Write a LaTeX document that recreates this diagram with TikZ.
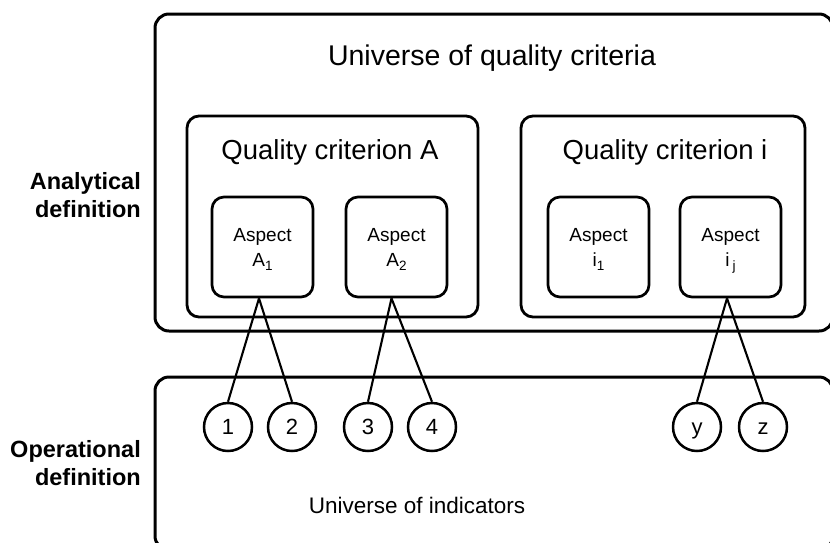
\documentclass[tikz,border=0pt]{standalone}
\usepackage{fontspec}
\setmainfont{Liberation Sans}
\newcommand\idx[1]{\raisebox{-4pt}[\height][0pt]{\fontsize{13.5}{13.5}\selectfont #1}}
\tikzset{
  frame/.style={draw, line width=3pt, rounded corners=14pt},
  critbox/.style={draw, line width=2.8pt, rounded corners=12pt},
  aspectbox/.style={draw, fill=white, line width=2.7pt, rounded corners=12pt,
    minimum width=101pt, minimum height=100pt, inner sep=0pt, align=center,
    font=\fontsize{19}{25}\selectfont},
  indicator/.style={draw, fill=white, circle, line width=2.5pt,
    minimum size=48pt, inner sep=0pt, text height=15.75pt, text depth=0pt,
    font=\fontsize{22}{22}\selectfont},
  link/.style={line width=2.1pt},
  bigtitle/.style={inner sep=0pt, font=\fontsize{28.5}{28.5}\selectfont},
  crittitle/.style={inner sep=0pt, font=\fontsize{27.5}{27.5}\selectfont},
  sidelabel/.style={inner sep=0pt, anchor=east, align=right,
    font=\bfseries\fontsize{23.5}{28}\selectfont}
}
\begin{document}
\begin{tikzpicture}[x=1pt, y=-1pt]
  \useasboundingbox (0,0) rectangle (830,542);
  \clip (0,0) rectangle (830,542);

  % outer frames
  \draw[frame] (155,14) rectangle (833,331);
  \draw[frame] (155,377) rectangle (833,550);
  \node[bigtitle] (quniv) at (492,58) {Universe of quality criteria};
  \node[inner sep=0pt, font=\fontsize{22.5}{22.5}\selectfont] (iuniv) at (417,505) {Universe of indicators};

  % quality criteria
  \draw[critbox] (187,116) rectangle (478,317);
  \draw[critbox] (521,116) rectangle (805,317);
  \node[crittitle] (qa) at (330,152) {Quality criterion A};
  \node[crittitle] (qi) at (665,152) {Quality criterion i};

  % aspects
  \node[aspectbox] (a1) at (262.5,247) {Aspect\\A\idx{1}};
  \node[aspectbox] (a2) at (396.5,247) {Aspect\\A\idx{2}};
  \node[aspectbox] (i1) at (598.5,247) {Aspect\\i\idx{1}};
  \node[aspectbox] (ij) at (730.5,247) {Aspect\\i\,\idx{j}};

  % indicators
  \node[indicator] (n1) at (228,427) {1};
  \node[indicator] (n2) at (292,427) {2};
  \node[indicator] (n3) at (368,427) {3};
  \node[indicator] (n4) at (432,427) {4};
  \node[indicator] (ny) at (697,427) {y};
  \node[indicator] (nz) at (763,427) {z};

  % links from aspects to indicators
  \draw[link] ([xshift=-3.5pt]a1.south) -- (n1.north);
  \draw[link] ([xshift=-3.5pt]a1.south) -- (n2.north);
  \draw[link] ([xshift=-5pt]a2.south) -- (n3.north);
  \draw[link] ([xshift=-5pt]a2.south) -- (n4.north);
  \draw[link] ([xshift=-3.5pt]ij.south) -- (ny.north);
  \draw[link] ([xshift=-3.5pt]ij.south) -- (nz.north);

  % side labels
  \node[sidelabel] (anal) at (141,195.5) {Analytical\\definition};
  \node[sidelabel] (oper) at (141,463.5) {Operational\\definition};
\end{tikzpicture}
\end{document}
